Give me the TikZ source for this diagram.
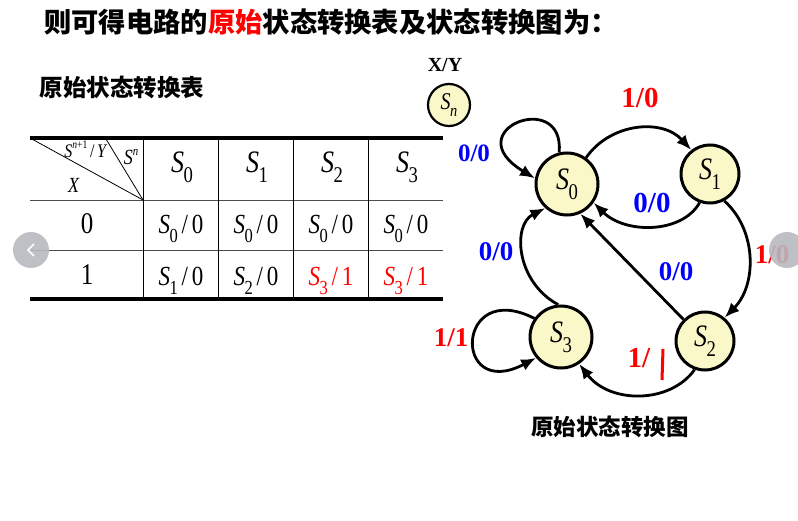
\documentclass[tikz,border=0pt]{standalone}
\usepackage{fontspec}
\setmainfont{Liberation Serif}
\newfontfamily\cjk{Noto Sans CJK SC}
\usepackage{graphicx}
\usetikzlibrary{arrows.meta}
\newcommand\Sb[1]{\textit{S}\kern-0.02em\raisebox{-0.32em}{\scalebox{0.72}{#1}}}
\newcommand\tall[1]{\scalebox{1}[1.2]{#1}}
\definecolor{nodefill}{RGB}{250,248,200}
\definecolor{uigrey}{RGB}{185,185,192}
\definecolor{lblblue}{RGB}{0,0,255}
\definecolor{lblred}{RGB}{255,0,0}
\begin{document}
\begin{tikzpicture}[x=1pt,y=-1pt,
  bigstate/.style={circle,draw,line width=3pt,fill=nodefill,minimum size=62pt,inner sep=0pt,font=\fontsize{26}{26}\selectfont},
  smallstate/.style={bigstate,minimum size=58pt},
  edge/.style={line width=2.8pt,-{Latex[length=15pt,width=12pt]}},
  lbl/.style={font=\bfseries\fontsize{27}{27}\selectfont,inner sep=0pt},
  cjkt/.style={font=\cjk\bfseries\fontsize{#1}{#1}\selectfont,inner sep=0pt},
  cell/.style={font=\fontsize{23}{23}\selectfont,inner sep=0pt},
  thick rule/.style={line width=3.5pt},
  thin rule/.style={line width=0.8pt},
  uibtn/.style={circle,fill=uigrey,fill opacity=0.9,minimum size=36pt,inner sep=0pt}]
\useasboundingbox (0,0) rectangle (798,521);
\fill[white] (0,0) rectangle (798,521);

% titles
\node[cjkt=27.3] (title) at (331,22) {则可得电路的\textcolor{lblred}{原始}状态转换表及状态转换图为：};
\node[cjkt=23.5] (tabtitle) at (122,88) {原始状态转换表};
\node[cjkt=22.5] (figtitle) at (610,427) {原始状态转换图};

% table
\coordinate (tl) at (30,138);
\coordinate (tr) at (443,138);
\coordinate (bl) at (30,299);
\coordinate (br) at (443,299);
\coordinate (h1l) at (30,200);
\coordinate (h1r) at (443,200);
\coordinate (h2l) at (30,250);
\coordinate (h2r) at (443,250);
\coordinate (corner) at (143,200);
\coordinate (d2) at (106,139);
\draw[thin rule,black!70] (h1l) -- (h1r);
\draw[thin rule,black!70] (h2l) -- (h2r);
\foreach \x/\n in {143/a,218/b,293/c,368/d}{
  \coordinate (v\n t) at (\x,138);
  \coordinate (v\n b) at (\x,299);
  \draw[thin rule] (v\n t) -- (v\n b);
}
\draw[thin rule] (tl) -- (corner);
\draw[thin rule] (d2) -- (corner);
\draw[thick rule] (tl) -- (tr);
\draw[thick rule] (bl) -- (br);

\node[inner sep=0pt,font=\fontsize{16}{16}\selectfont] (hsn1) at (86,149) {\tall{\textit{S}\raisebox{0.45em}{\scalebox{0.6}{\textit{n}+1}}\,/\,\textit{Y}}};
\node[inner sep=0pt,font=\fontsize{18}{18}\selectfont] (hsn) at (131,157) {\tall{\textit{S}\raisebox{0.45em}{\scalebox{0.6}{\textit{n}}}}};
\node[inner sep=0pt,font=\fontsize{18}{18}\selectfont] (hx) at (74,185) {\tall{\textit{X}}};

\foreach \i/\x in {0/182,1/257,2/332,3/407}{
  \node[inner sep=0pt,font=\fontsize{26}{26}\selectfont] (hd\i) at (\x,167) {\tall{\Sb{\i}}};
}
\node[cell,font=\fontsize{25}{25}\selectfont] (r0) at (87,224) {\tall{0}};
\node[cell,font=\fontsize{25}{25}\selectfont] (r1) at (87,275) {\tall{1}};
\node[cell] (c00) at (181,229) {\tall{\Sb{0}\,/\,0}};
\node[cell] (c01) at (256,229) {\tall{\Sb{0}\,/\,0}};
\node[cell] (c02) at (331,229) {\tall{\Sb{0}\,/\,0}};
\node[cell] (c03) at (406,229) {\tall{\Sb{0}\,/\,0}};
\node[cell] (c10) at (181,281) {\tall{\Sb{1}\,/\,0}};
\node[cell] (c11) at (256,281) {\tall{\Sb{2}\,/\,0}};
\node[cell,text=lblred] (c12) at (331,281) {\tall{\Sb{3}\,/\,1}};
\node[cell,text=lblred] (c13) at (406,281) {\tall{\Sb{3}\,/\,1}};

% legend
\node[inner sep=0pt,font=\bfseries\fontsize{20}{20}\selectfont] (xy) at (445,65) {X/Y};
\node[circle,draw,line width=2.2pt,fill=nodefill,minimum size=42pt,inner sep=0pt,font=\fontsize{20}{20}\selectfont] (Sn) at (449,105) {\tall{\textit{S}\kern-0.02em\raisebox{-0.32em}{\scalebox{0.72}{\textit{n}}}}};

% states
\node[bigstate] (S0) at (567,184) {\tall{\Sb{0}}};
\node[smallstate] (S1) at (710,174) {\tall{\Sb{1}}};
\node[smallstate] (S2) at (705,341) {\tall{\Sb{2}}};
\node[bigstate] (S3) at (561,337) {\tall{\Sb{3}}};

% edges
\draw[edge] (S0.54) .. controls (610,123) and (662,118) .. (S1.128);
\draw[edge] (S1.250) .. controls (682,234) and (625,234) .. (S0.-35);
\draw[edge] (S1.-62) .. controls (757,230) and (757,285) .. (S2.50);
\draw[edge] (S2.135) -- (S0.-66);
\draw[edge] (S3.95) .. controls (516,282) and (512,225) .. (S0.-132);
\draw[edge] (S0.104) .. controls (565,88) and (455,130) .. (S0.170);
\draw[edge] (S3.145) .. controls (455,278) and (452,402) .. (S3.-140);
\draw[edge] (S2.-110) .. controls (670,404) and (610,404) .. (S3.-56);

% edge labels
\node[lbl,text=lblred,font=\bfseries\fontsize{29}{29}\selectfont] (l01) at (640,98) {1/0};
\node[lbl,text=lblblue,font=\bfseries\fontsize{25}{25}\selectfont] (l00) at (474,153) {0/0};
\node[lbl,text=lblblue,font=\bfseries\fontsize{29}{29}\selectfont] (l10) at (652,203) {0/0};
\node[lbl,text=lblred] (l12) at (772,255) {1/0};
\node[lbl,text=lblblue] (l30) at (496,252) {0/0};
\node[lbl,text=lblblue] (l20) at (676,272) {0/0};
\node[lbl,text=lblred] (l33) at (451,338) {1/1};
\node[lbl,text=lblred,font=\bfseries\fontsize{29}{29}\selectfont] (l23) at (639,358) {1/};
\coordinate (bar1) at (663,349);
\coordinate (bar2) at (662,380);
\draw[lblred,line width=3pt] (bar1) -- (bar2);

% UI overlay buttons
\node[uibtn] (btnl) at (31,250) {};
\draw[white,line width=1.6pt] ([xshift=3pt,yshift=-6pt]btnl.center) -- ([xshift=-3pt]btnl.center) -- ([xshift=3pt,yshift=6pt]btnl.center);
\node[uibtn] (btnr) at (787,250) {};
\end{tikzpicture}
\end{document}
